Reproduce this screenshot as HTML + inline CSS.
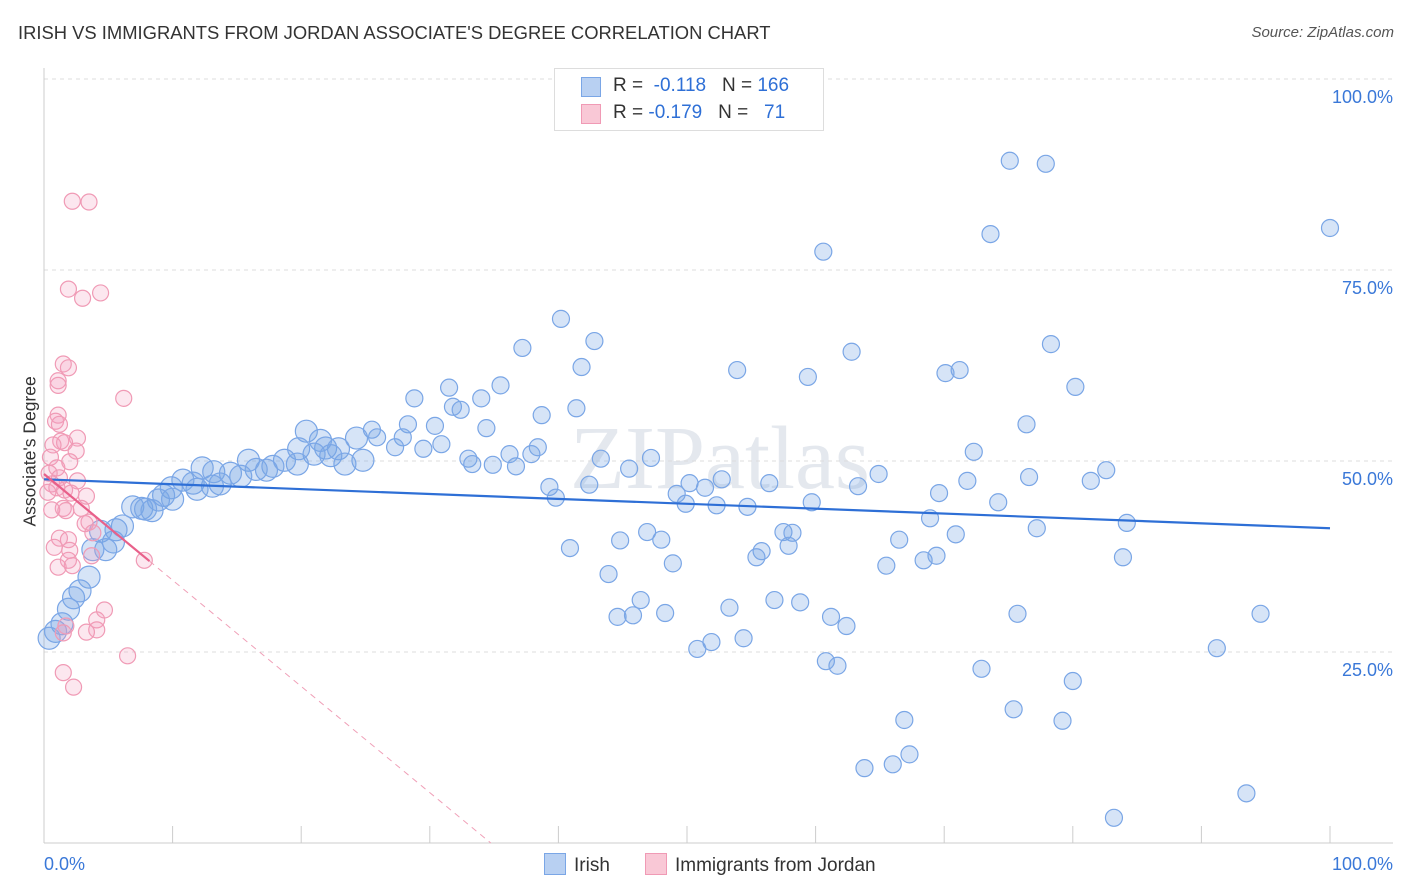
<!DOCTYPE html>
<html><head><meta charset="utf-8">
<style>
body{margin:0;background:#fff;font-family:"Liberation Sans",sans-serif;}
#wrap{position:relative;width:1406px;height:892px;overflow:hidden;}
.t{position:absolute;white-space:nowrap;}
</style></head>
<body>
<div id="wrap">
<div class="t" style="left:18px;top:22px;font-size:18.4px;color:#333;">IRISH VS IMMIGRANTS FROM JORDAN ASSOCIATE'S DEGREE CORRELATION CHART</div>
<div class="t" style="right:12px;top:24px;font-size:15px;color:#555;font-style:italic;">Source: ZipAtlas.com</div>
<div class="t" style="left:-40px;top:446px;font-size:17.5px;color:#333;transform:rotate(-90deg);width:140px;text-align:center;">Associate's Degree</div>
<svg id="chart" width="1406" height="892" style="position:absolute;left:0;top:0"></svg>
<div style="position:absolute;left:554px;top:68px;width:268px;height:61px;border:1px solid #ddd;background:#fff;font-size:19px;">
 <div style="position:absolute;left:26px;top:8px;width:18px;height:18px;background:#b8d0f2;border:1px solid #7aa6e6;"></div>
 <div class="t" style="left:58px;top:6px;color:#333">R = <span style="color:#2e6fd6">&nbsp;-0.118</span>&nbsp;&nbsp;&nbsp;N = <span style="color:#2e6fd6">166</span></div>
 <div style="position:absolute;left:26px;top:35px;width:18px;height:18px;background:#f9c8d6;border:1px solid #f09ab5;"></div>
 <div class="t" style="left:58px;top:33px;color:#333">R = <span style="color:#2e6fd6">-0.179</span>&nbsp;&nbsp;&nbsp;N = <span style="color:#2e6fd6">&nbsp;&nbsp;71</span></div>
</div>
<div style="position:absolute;left:544px;top:853px;font-size:19px;color:#333;">
 <span style="display:inline-block;width:20px;height:20px;background:#b8d0f2;border:1px solid #7aa6e6;vertical-align:-4px;margin-right:8px;"></span>Irish</div>
<div style="position:absolute;left:645px;top:853px;font-size:19px;color:#333;">
 <span style="display:inline-block;width:20px;height:20px;background:#f9c8d6;border:1px solid #f09ab5;vertical-align:-4px;margin-right:8px;"></span>Immigrants from Jordan</div>
</div>
<script>
const yTicks=[25,50,75,100];
const yTickLabels=["25.0%","50.0%","75.0%","100.0%"];
const xTickVals=[0,10,20,30,40,50,60,70,80,90,100];
const blueX=[75.1,77.9,100,73.6,60.6,40.2,42.8,37.2,62.8,78.3,41.8,53.9,71.2,70.1,59.4,80.2,31.5,35.5,28.8,34.0,31.8,32.4,41.4,38.7,28.3,30.4,76.4,34.4,20.4,25.5,25.9,24.3,21.5,27.9,19.8,21.9,22.9,27.3,29.5,30.9,38.4,72.3,21.0,22.3,24.8,23.4,33.0,36.2,37.9,43.3,47.2,33.3,34.9,36.7,45.5,15.9,18.7,19.7,17.8,16.5,12.3,13.2,14.5,15.3,17.3,64.9,82.6,76.6,81.4,71.8,52.7,56.4,50.2,42.4,39.3,63.3,51.4,10.8,11.6,13.7,9.9,13.1,11.9,49.2,39.8,69.6,9.3,8.9,10.0,59.7,49.9,52.3,54.7,74.2,6.9,7.6,8.4,7.9,68.9,84.2,77.2,6.1,5.6,4.4,70.9,57.5,58.2,46.9,66.5,44.8,48.0,57.9,40.9,5.4,4.8,3.8,55.8,55.4,69.4,68.4,83.9,48.9,65.5,3.5,43.9,2.8,2.3,46.4,56.8,58.8,1.9,53.3,44.6,45.8,48.3,61.2,75.7,94.6,62.4,1.4,0.9,0.4,54.4,51.9,50.8,91.2,60.8,61.7,72.9,80.0,75.4,66.9,79.2,67.3,66.0,63.8,93.5,83.2];
const blueY=[89.3,88.9,80.5,79.7,77.4,68.6,65.7,64.8,64.3,65.3,62.3,61.9,61.9,61.5,61.0,59.7,59.6,59.9,58.2,58.2,57.1,56.7,56.9,56.0,54.8,54.6,54.8,54.3,53.9,54.1,53.1,53.0,52.7,53.1,51.6,51.7,51.6,51.8,51.6,52.2,51.8,51.2,50.9,50.7,50.1,49.6,50.3,50.9,50.9,50.3,50.4,49.6,49.5,49.3,49.0,50.1,50.1,49.6,49.3,48.9,49.1,48.6,48.4,48.0,48.8,48.3,48.8,47.9,47.4,47.4,47.6,47.1,47.1,46.9,46.6,46.7,46.5,47.5,47.1,47.0,46.5,46.7,46.3,45.7,45.2,45.8,45.5,44.9,45.0,44.6,44.4,44.2,44.0,44.6,44.0,43.8,43.5,43.7,42.5,41.9,41.2,41.5,41.0,40.8,40.4,40.7,40.6,40.7,39.7,39.6,39.7,38.9,38.6,39.4,38.4,38.4,38.2,37.4,37.6,37.0,37.4,36.6,36.3,34.8,35.2,33.0,32.1,31.8,31.8,31.5,30.6,30.8,29.6,29.8,30.1,29.6,30.0,30.0,28.4,28.7,27.7,26.8,26.8,26.3,25.4,25.5,23.8,23.2,22.8,21.2,17.5,16.1,16.0,11.6,10.3,9.8,6.5,3.3];
const pinkX=[2.2,3.5,1.9,4.4,3.0,1.5,1.9,1.1,1.1,6.2,1.1,0.9,1.2,2.6,1.3,1.6,0.7,2.5,2.0,0.5,1.0,0.4,1.2,2.6,0.6,1.0,1.6,0.3,2.1,3.3,1.5,0.6,2.9,1.7,3.5,3.2,3.8,1.2,1.9,0.8,2.0,3.7,1.9,7.8,2.2,1.1,4.7,4.1,1.7,4.1,3.3,1.5,6.5,1.5,2.3];
const pinkY=[84.0,83.9,72.5,72.0,71.3,62.7,62.2,60.5,59.9,58.2,56.0,55.2,54.8,53.0,52.6,52.4,52.1,51.3,49.9,50.5,49.1,48.4,47.8,47.4,47.0,46.5,46.2,45.9,45.8,45.4,43.8,43.6,43.8,43.5,42.0,41.8,40.6,39.9,39.7,38.7,38.3,37.6,37.0,37.0,36.3,36.1,30.5,29.2,28.4,27.9,27.6,27.5,24.5,22.3,20.4];
const blueTrend=[47.6,41.2];
const pinkTrend=[48.3,36.9];
const pinkTrendEnd=8.2;

const X0=44,X1=1330,Y0=843,Y100=79;
const sx=v=>X0+v*(X1-X0)/100;
const sy=v=>Y0-v*(Y0-Y100)/100;
const svg=document.getElementById('chart');
const NS='http://www.w3.org/2000/svg';
function mk(tag,attrs){const e=document.createElementNS(NS,tag);for(const k in attrs)e.setAttribute(k,attrs[k]);svg.appendChild(e);return e;}

let wm=mk('text',{x:720,y:488,'text-anchor':'middle','font-size':90,'font-family':'Liberation Serif, serif',fill:'#e4e8ee'});
wm.textContent='ZIPatlas';



yTicks.forEach((v,i)=>{
  const g=mk('line',{x1:X0,x2:1393,y1:sy(v),y2:sy(v),stroke:'#ddd','stroke-dasharray':'4,4'});
  
  
  const t=mk('text',{x:1393,y:sy(v)+24,'text-anchor':'end','font-size':18,fill:'#3a78d8','font-family':'Liberation Sans, sans-serif'});
  t.textContent=yTickLabels[i];
  
  
});
let ax=mk('line',{x1:X0,x2:1393,y1:Y0,y2:Y0,stroke:'#ccc'});


let ay=mk('line',{x1:X0,x2:X0,y1:68,y2:Y0,stroke:'#ccc'});


xTickVals.forEach(v=>{
  const t=mk('line',{x1:sx(v),x2:sx(v),y1:Y0,y2:Y0-17,stroke:'#ccc'});
  
  
});
[[0,'0.0%','start',44],[100,'100.0%','end',1393]].forEach(a=>{
  const t=mk('text',{x:a[3],y:870,'text-anchor':a[2],'font-size':18,fill:'#3a78d8','font-family':'Liberation Sans, sans-serif'});
  t.textContent=a[1];
  
  
});

blueX.forEach((x,i)=>{
  const c=mk('circle',{cx:sx(x),cy:sy(blueY[i]),r:x<25?11:8.5,fill:'rgba(120,165,230,0.3)',stroke:'#7aa6e6','stroke-width':1.2});
  
  
});
pinkX.forEach((x,i)=>{
  const c=mk('circle',{cx:sx(x),cy:sy(pinkY[i]),r:8,fill:'rgba(245,160,190,0.25)',stroke:'#f09ab5','stroke-width':1.2});
  
  
});

let bl=mk('line',{x1:sx(0),y1:sy(blueTrend[0]),x2:sx(100),y2:sy(blueTrend[1]),stroke:'#2e6fd6','stroke-width':2.2});


const slope=(pinkTrend[1]-pinkTrend[0])/pinkTrendEnd;
const zeroX=-pinkTrend[0]/slope;
let pd=mk('line',{x1:sx(pinkTrendEnd),y1:sy(pinkTrend[1]),x2:sx(zeroX),y2:sy(0),stroke:'#f0a0b8','stroke-width':1,'stroke-dasharray':'6,5'});


let pl=mk('line',{x1:sx(0),y1:sy(pinkTrend[0]),x2:sx(pinkTrendEnd),y2:sy(pinkTrend[1]),stroke:'#e8608a','stroke-width':2.2});


</script>
</body></html>
